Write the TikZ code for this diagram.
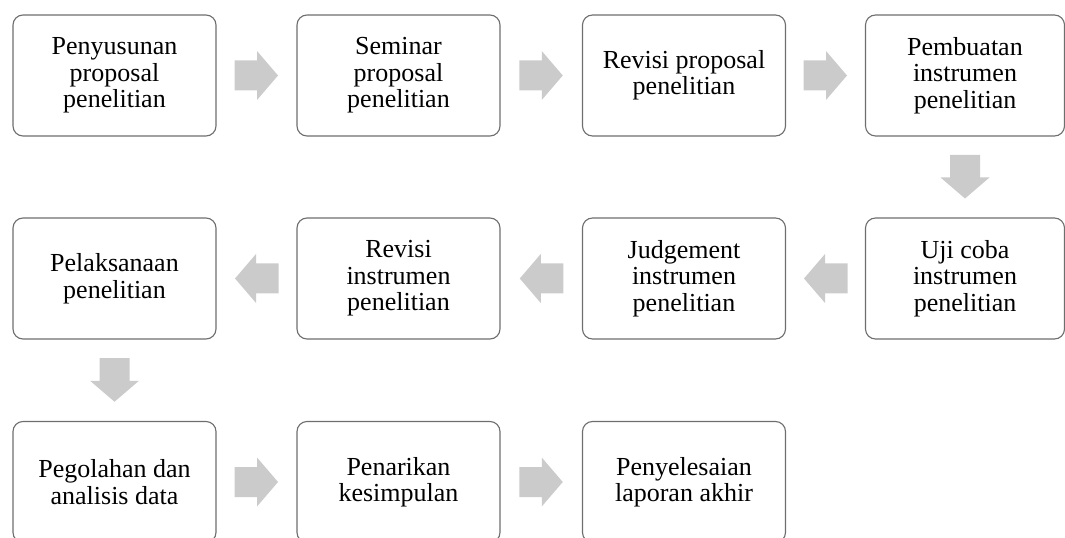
\documentclass[tikz,border=0pt]{standalone}
\usepackage{fontspec}
\setmainfont{Liberation Serif}
\usetikzlibrary{calc}
\definecolor{boxline}{HTML}{6E6E6E}
\definecolor{arrowgray}{HTML}{CBCBCB}
\tikzset{
  stepbox/.style={draw=boxline, line width=1.1bp, fill=white, rounded corners=10bp,
    minimum width=203bp, minimum height=121bp, inner sep=0pt, align=center,
    font=\fontsize{26bp}{26.5bp}\selectfont},
  lastcol/.style={minimum width=199bp},
  arrowfill/.style={fill=arrowgray}
}
\newcommand{\rarrow}[1]{\fill[arrowfill] (#1) ++(-22,-15) -- ++(22.5,0) -- ++(0,-9.5) -- ++(21,24.5) -- ++(-21,24.5) -- ++(0,-9.5) -- ++(-22.5,0) -- cycle;}
\newcommand{\larrow}[1]{\fill[arrowfill] (#1) ++(22,-15) -- ++(-22.5,0) -- ++(0,-9.5) -- ++(-21,24.5) -- ++(21,24.5) -- ++(0,-9.5) -- ++(22.5,0) -- cycle;}
\newcommand{\darrow}[1]{\fill[arrowfill] (#1) ++(-15,-22) -- ++(0,22.5) -- ++(-9.5,0) -- ++(24.5,21) -- ++(24.5,-21) -- ++(-9.5,0) -- ++(0,-22.5) -- cycle;}
\begin{document}
\begin{tikzpicture}[x=1bp,y=-1bp]
\useasboundingbox (0,0) rectangle (1065,538);
\clip (0,0) rectangle (1065,538);
% row 1
\node[stepbox] (b1) at (114.5,75.5) {Penyusunan\\proposal\\penelitian};
\node[stepbox] (b2) at (398.5,75.5) {Seminar\\proposal\\penelitian};
\node[stepbox] (b3) at (684,75.5) {Revisi proposal\\penelitian};
\node[stepbox,lastcol] (b4) at (965,75.5) {Pembuatan\\instrumen\\penelitian};
% row 2
\node[stepbox,lastcol] (b5) at (965,278.5) {Uji coba\\instrumen\\penelitian};
\node[stepbox] (b6) at (684,278.5) {Judgement\\instrumen\\penelitian};
\node[stepbox] (b7) at (398.5,278.5) {Revisi\\instrumen\\penelitian};
\node[stepbox] (b8) at (114.5,278.5) {Pelaksanaan\\penelitian};
% row 3
\node[stepbox] (b9) at (114.5,482) {Pegolahan dan\\analisis data};
\node[stepbox] (b10) at (398.5,482) {Penarikan\\kesimpulan};
\node[stepbox] (b11) at (684,482) {Penyelesaian\\laporan akhir};
% arrow positions
\coordinate (a12) at ($(b1.east)!0.5!(b2.west)$);
\coordinate (a23) at ($(b2.east)!0.5!(b3.west)$);
\coordinate (a34) at ($(b3.east)!0.5!(b4.west)$);
\coordinate (a45) at ($(b4.south)!0.5!(b5.north)$);
\coordinate (a56) at ($(b5.west)!0.5!(b6.east)$);
\coordinate (a67) at ($(b6.west)!0.5!(b7.east)$);
\coordinate (a78) at ($(b7.west)!0.5!(b8.east)$);
\coordinate (a89) at ($(b8.south)!0.5!(b9.north)$);
\coordinate (a910) at ($(b9.east)!0.5!(b10.west)$);
\coordinate (a1011) at ($(b10.east)!0.5!(b11.west)$);
\rarrow{a12}
\rarrow{a23}
\rarrow{a34}
\darrow{a45}
\larrow{a56}
\larrow{a67}
\larrow{a78}
\darrow{a89}
\rarrow{a910}
\rarrow{a1011}
\end{tikzpicture}
\end{document}
